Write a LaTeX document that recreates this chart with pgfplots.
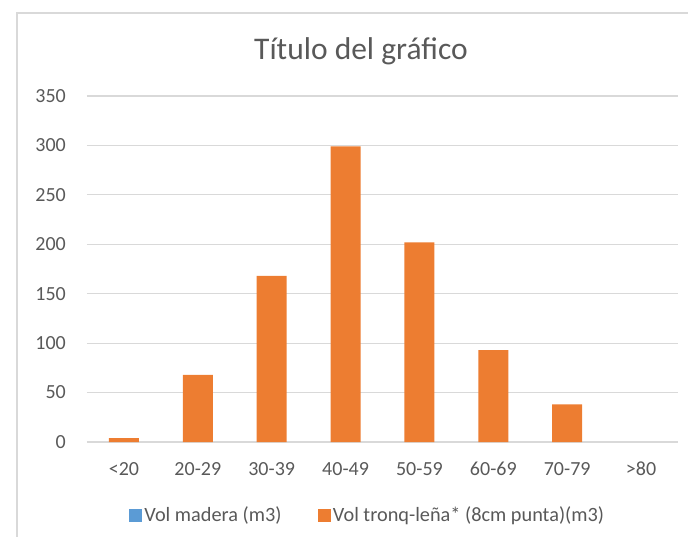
\documentclass[border=0pt]{standalone}
\usepackage{pgfplots}
\pgfplotsset{compat=1.18}
\usepackage{fontspec}
\setmainfont{Carlito}
\definecolor{txt}{HTML}{595959}
\definecolor{grd}{HTML}{D9D9D9}
\definecolor{cblue}{HTML}{5B9BD5}
\definecolor{corange}{HTML}{ED7D31}
\begin{document}
\begin{tikzpicture}
\path[use as bounding box] (0pt,0pt) rectangle (688pt,536pt);
\draw[grd, line width=1.2pt] (17pt,-2pt) -- (17pt,523pt) -- (690pt,523pt);
\node[anchor=base, text=txt, inner sep=0pt, font=\fontsize{31.5}{36}\selectfont] at (361pt,476pt) {Título del gráfico};
\begin{axis}[
  at={(87pt,94pt)}, anchor=south west,
  scale only axis, width=591pt, height=346pt,
  ybar, bar width=30pt,
  xmin=-0.5, xmax=7.5, ymin=0, ymax=350,
  ytick={0,50,...,350},
  xtick={0,...,7},
  xticklabels={{<20},{20-29},{30-39},{40-49},{50-59},{60-69},{70-79},{>80}},
  ymajorgrids, major grid style={grd, line width=1.2pt},
  axis line style={draw=none},
  major tick length=0pt,
  tick label style={text=txt, font=\fontsize{20}{24}\selectfont, inner sep=0pt},
  /pgf/number format/assume math mode=true,
  yticklabel style={anchor=east, xshift=-21pt},
  xticklabel style={anchor=base, yshift=-33pt},
  legend columns=2,
  legend style={draw=none, fill=none, at={(0.475,-0.211)}, anchor=center,
    font=\fontsize{20.3}{24}\selectfont, text=txt,
    /tikz/every even column/.append style={column sep=34pt},
    nodes={inner sep=2.2pt}},
]
\addplot[fill=none, draw=none, bar shift=0pt,
  legend image code/.code={\fill[cblue] (0pt,-6.5pt) rectangle (13pt,6.5pt);}]
  coordinates {(0,0) (1,0) (2,0) (3,0) (4,0) (5,0) (6,0) (7,0)};
\addlegendentry{Vol madera (m3)}
\addplot[fill=corange, draw=none, bar shift=0pt,
  legend image code/.code={\fill[corange] (0pt,-6.5pt) rectangle (13pt,6.5pt);}]
  coordinates {(0,4) (1,68) (2,168) (3,299) (4,202) (5,93) (6,38)};
\addlegendentry{Vol tronq-leña* (8cm punta)(m3)}
\end{axis}
\end{tikzpicture}
\end{document}
